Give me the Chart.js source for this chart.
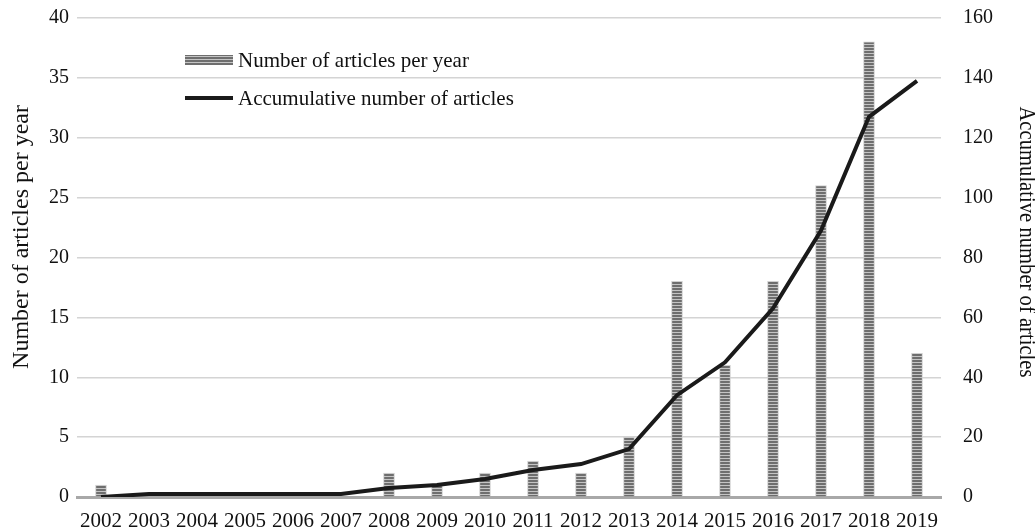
<!DOCTYPE html>
<html>
<head>
<meta charset="utf-8">
<script src="https://cdn.jsdelivr.net/npm/chart.js@4"></script>
<style>
  html, body { margin: 0; padding: 0; background: #fff; }
  #wrap { width: 1035px; height: 530px; }
</style>
</head>
<body>
<div id="wrap"><canvas id="myChart"></canvas></div>
<script>
var years = ['2002', '2003', '2004', '2005', '2006', '2007', '2008', '2009', '2010',
  '2011', '2012', '2013', '2014', '2015', '2016', '2017', '2018', '2019'];
var perYear = [1, 0, 0, 0, 0, 0, 2, 1, 2, 3, 2, 5, 18, 11, 18, 26, 38, 12];
var cumulative = [0, 1, 1, 1, 1, 1, 3, 4, 6, 9, 11, 16, 34, 45, 63, 89, 127, 139];
var leftTicks = [0, 5, 10, 15, 20, 25, 30, 35, 40];
var rightTicks = [0, 20, 40, 60, 80, 100, 120, 140, 160];
var leftTitle = 'Number of articles per year';
var rightTitle = 'Accumulative number of articles';

var serif = "'Liberation Serif', 'DejaVu Serif', serif";

// striped fill for the bars
function stripes() {
  var c = document.createElement('canvas');
  c.width = 4; c.height = 3;
  var g = c.getContext('2d');
  g.fillStyle = '#c4c4c4';
  g.fillRect(0, 0, 4, 3);
  g.fillStyle = '#6e6e6e';
  g.fillRect(0, 0, 4, 2);
  return g.createPattern(c, 'repeat');
}
var barFill = stripes();

// fixed axis sizes so the plot area lands where the original one is
function fixAxis(size) {
  return function (s) {
    if (s.isHorizontal()) s.height = size; else s.width = size;
    s.paddingTop = 0; s.paddingBottom = 0;
    s.paddingLeft = 0; s.paddingRight = 0;
  };
}

// legend inside the plot area + axis titles (placed a bit above centre like the original)
var extras = {
  id: 'extras',
  afterDraw: function (chart) {
    var ctx = chart.ctx;
    var x = 185, y0 = 60, gap = 38;
    ctx.save();
    ctx.font = '21px ' + serif;
    ctx.fillStyle = '#111';
    ctx.textBaseline = 'middle';
    chart.data.datasets.forEach(function (ds, i) {
      var y = y0 + i * gap;
      if (ds.type === 'line') {
        ctx.strokeStyle = '#1a1a1a';
        ctx.lineWidth = 4;
        ctx.beginPath();
        ctx.moveTo(x, y);
        ctx.lineTo(x + 48, y);
        ctx.stroke();
      } else {
        ctx.fillStyle = barFill;
        ctx.fillRect(x, y - 5, 48, 10);
        ctx.fillStyle = '#111';
      }
      ctx.fillText(ds.label, x + 53, y + 1);
    });

    ctx.font = '24px ' + serif;
    ctx.textAlign = 'center';
    ctx.translate(22, 237);
    ctx.rotate(-Math.PI / 2);
    ctx.fillText(leftTitle, 0, 0);
    ctx.setTransform(1, 0, 0, 1, 0, 0);
    ctx.translate(1026, 242);
    ctx.rotate(Math.PI / 2);
    ctx.scale(0.86, 1);
    ctx.fillText(rightTitle, 0, 0);
    ctx.restore();
  }
};

var ctx = document.getElementById('myChart').getContext('2d');
new Chart(ctx, {
  data: {
    labels: years,
    datasets: [
      {
        type: 'bar',
        label: 'Number of articles per year',
        data: perYear,
        yAxisID: 'y',
        backgroundColor: barFill,
        borderColor: '#d0d0d0',
        borderWidth: 1,
        barThickness: 11,
        order: 1
      },
      {
        type: 'line',
        label: 'Accumulative number of articles',
        data: cumulative,
        yAxisID: 'y2',
        borderColor: '#1a1a1a',
        borderWidth: 4,
        pointRadius: 0,
        tension: 0,
        order: 0
      }
    ]
  },
  options: {
    responsive: true,
    maintainAspectRatio: false,
    animation: false,
    layout: { autoPadding: false, padding: { top: 18, right: 0, bottom: 0, left: 0 } },
    plugins: {
      legend: { display: false },
      tooltip: { enabled: false }
    },
    scales: {
      x: {
        grid: { display: false, drawTicks: false },
        border: { color: '#a8a8a8', width: 3 },
        ticks: { color: '#111', font: { family: serif, size: 21 }, padding: 12, maxRotation: 0, autoSkip: false },
        afterFit: fixAxis(33)
      },
      y: {
        position: 'left',
        min: 0, max: 40,
        afterBuildTicks: function (s) { s.ticks = leftTicks.map(function (v) { return { value: v }; }); },
        grid: { color: '#d4d4d4', lineWidth: 1.5, drawTicks: false },
        border: { display: false },
        ticks: { color: '#111', font: { family: serif, size: 20 }, padding: 8 },
        afterFit: fixAxis(77)
      },
      y2: {
        position: 'right',
        min: 0, max: 160,
        afterBuildTicks: function (s) { s.ticks = rightTicks.map(function (v) { return { value: v }; }); },
        grid: { display: false, drawTicks: false },
        border: { display: false },
        ticks: { color: '#111', font: { family: serif, size: 20 }, padding: 22 },
        afterFit: fixAxis(94)
      }
    }
  },
  plugins: [extras]
});
</script>
</body>
</html>
